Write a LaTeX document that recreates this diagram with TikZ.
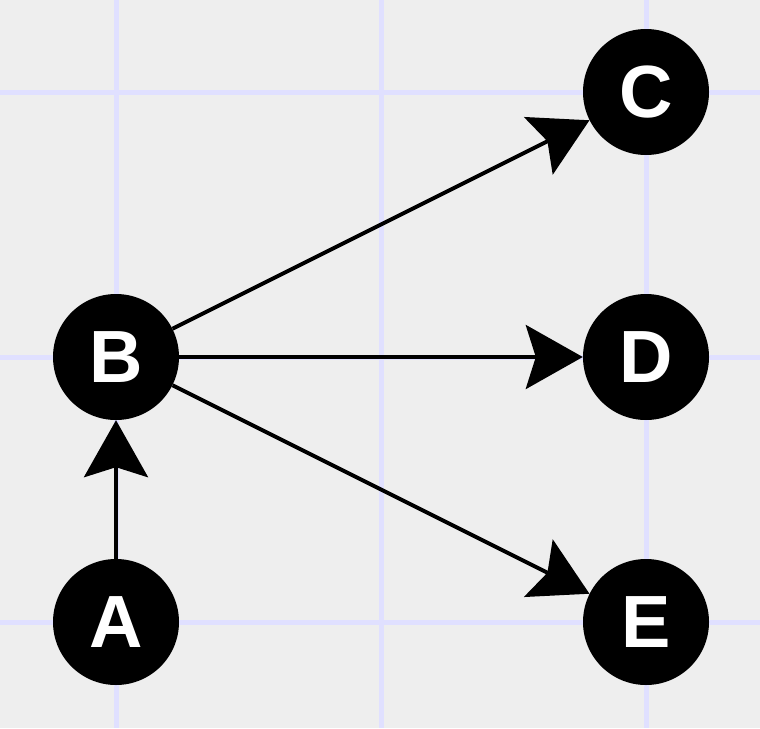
\documentclass[tikz,border=0pt]{standalone}
\usepackage{fontspec}
\setmainfont{Liberation Sans}
\usetikzlibrary{arrows.meta}
\definecolor{bggray}{HTML}{EEEEEE}
\definecolor{gridblue}{HTML}{E0E0FF}
\begin{document}
\begin{tikzpicture}[x=1pt,y=-1pt,
  vertex/.style={circle,fill=black,minimum size=126pt,inner sep=0pt,
    text=white,font=\fontsize{74}{74}\selectfont\bfseries},
  edge/.style={line width=4pt,draw=black,
    -{Stealth[length=57pt,width=64pt,inset=10pt]}},
  gridline/.style={draw=gridblue,line width=5pt}]
  % canvas and background grid
  \fill[bggray] (0,0) rectangle (760,728);
  \useasboundingbox (0,0) rectangle (760,728);
  \foreach \g in {116,381,646} {
    \draw[gridline] (\g,0) -- (\g,728);
  }
  \foreach \g in {92,357,622} {
    \draw[gridline] (0,\g) -- (760,\g);
  }
  % vertices
  \node[vertex] (A) at (116,622) {A};
  \node[vertex] (B) at (116,357) {B};
  \node[vertex] (C) at (646,92) {C};
  \node[vertex] (D) at (646,357) {D};
  \node[vertex] (E) at (646,622) {E};
  % edges
  \draw[edge] (A) -- (B);
  \draw[edge] (B) -- (C);
  \draw[edge] (B) -- (D);
  \draw[edge] (B) -- (E);
\end{tikzpicture}
\end{document}
